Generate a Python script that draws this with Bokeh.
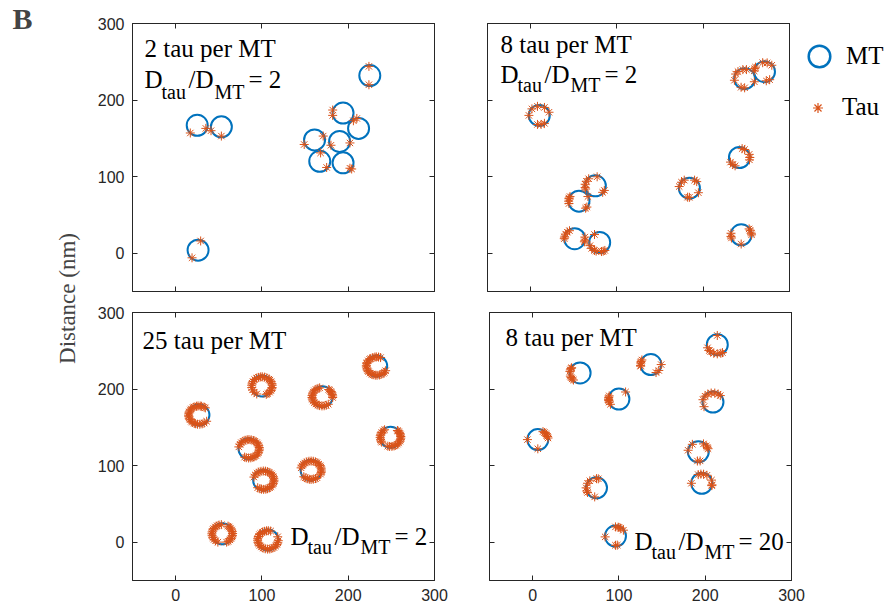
import math
from bokeh.plotting import figure
from bokeh.models import (Range1d, LinearAxis, FixedTicker, Label, Legend, LegendItem,
                          CustomJSTickFormatter)
from bokeh.layouts import row, column
from bokeh.embed import file_html
from bokeh.resources import INLINE

# ---------------- data ----------------
X_TICKS = [0, 100, 200, 300]
Y_TICKS = [0, 100, 200, 300]
AX_MIN, AX_MAX = -50, 300
TAU_R = 12  # distance of tau from MT centre (nm)

# Panel A: 2 tau per MT, Dtau/DMT = 2
mt1_x = [25, 53, 26, 225, 194, 212, 161, 190, 167, 194]
mt1_y = [167, 165, 4, 232, 183, 163, 148, 146, 120, 118]
tau1_x = [17, 35, 41, 53, 29, 19, 224, 224, 182, 182, 206, 210, 149, 171, 180, 202, 168, 175, 202, 204]
tau1_y = [157, 163, 160, 153, 16, -6, 244, 220, 187, 180, 173, 176, 142, 153, 141, 144, 131, 112, 111, 110]

# Panel B: 8 tau per MT, Dtau/DMT = 2
mt2_x = [10, 248, 271, 242, 75, 56, 184, 51, 80, 244]
mt2_y = [180, 228, 237, 125, 88, 68, 85, 19, 14, 24]
tau2_ang = [
    [180, 135, 100, 60, 20, -60, -80, -100],
    [190, 130, 100, 80, -20, -90, -110, 150],
    [175, 100, 75, 45, -60, -80, 150, 160],
    [210, 230, 245, 60, 75, 0, -15, 20],
    [170, 200, 130, 80, -30, -45, 150, 190],
    [165, 180, 195, 150, -40, -50, 30, 160],
    [140, 120, 60, 45, -100, -90, -30, 170],
    [170, 180, 135, 120, 10, -10, -20, 150],
    [220, 240, -80, -60, -70, 120, 200, 250],
    [170, 190, 200, -90, 40, 10, 0, 30],
]

# Panel C: 25 tau per MT, Dtau/DMT = 2
mt3_x = [27, 100, 233, 170, 249, 85, 102, 157, 54, 107]
mt3_y = [166, 204, 230, 190, 137, 122, 81, 94, 11, 3]
tau3_ang = [
    [52, 60, 75, 83, 95, 104, 118, 125, 138, 146, 160, 168, 180, 187, 199, 210, 222, 230, 243, 250, 262, 275, 288, 300, 318],
    [295, 305, 318, 330, 342, 350, 5, 15, 28, 40, 48, 62, 75, 88, 97, 110, 122, 135, 150, 162, 175, 190, 205, 222, 240],
    [68, 80, 92, 100, 112, 125, 133, 145, 158, 165, 178, 186, 198, 210, 218, 230, 242, 250, 262, 272, 285, 295, 308, 318, 330],
    [105, 115, 128, 140, 150, 162, 173, 185, 195, 208, 220, 232, 245, 255, 268, 280, 292, 305, 355, 5, 15, 25, 35, 45, 52],
    [125, 135, 148, 160, 170, 182, 195, 205, 212, 255, 265, 278, 290, 300, 312, 322, 335, 345, 355, 5, 15, 25, 33, 42, 48],
    [245, 255, 268, 280, 292, 300, 312, 325, 335, 348, 358, 8, 20, 32, 42, 55, 65, 78, 90, 100, 112, 125, 138, 150, 168],
    [235, 248, 258, 270, 282, 292, 305, 315, 328, 338, 350, 0, 12, 22, 35, 45, 58, 68, 80, 92, 105, 118, 130, 145, 160],
    [225, 235, 248, 260, 270, 282, 295, 305, 335, 345, 355, 8, 20, 30, 42, 55, 65, 78, 90, 102, 115, 128, 140, 152, 165],
    [95, 108, 120, 132, 145, 155, 168, 180, 192, 205, 218, 230, 245, 295, 305, 318, 328, 340, 350, 2, 15, 25, 38, 48, 56],
    [75, 88, 98, 110, 122, 135, 145, 158, 170, 182, 195, 205, 218, 230, 242, 255, 268, 280, 292, 305, 318, 330, 342, 355, 20],
]

# Panel D: 8 tau per MT, Dtau/DMT = 20
mt4_x = [214, 137, 55, 100, 209, 6, 192, 196, 74, 96]
mt4_y = [258, 232, 221, 187, 183, 134, 118, 77, 71, 8]
tau4_ang = [
    [90, 200, 220, 250, 270, 290, 300, 230],
    [170, 150, 185, 190, -40, -60, 0, 160],
    [160, 150, 210, 220, 200, 145, 170, 230],
    [180, 185, 170, 200, 160, 190, 215, 50],
    [100, 165, 210, 60, 45, 80, 120, 140],
    [50, 60, 10, 20, -90, 180, 30, 40],
    [170, 125, 40, 30, -80, 60, 20, -95],
    [95, 80, 180, 20, -15, -10, 110, 60],
    [130, 90, 210, 260, 180, 150, 200, 80],
    [185, 90, 70, -90, 40, 60, -80, 75],
]

# ---------------- styles ----------------
MT_COLOR = "#0072BD"
TAU_COLOR = "#D95319"
AX_COLOR = "#262626"
SERIF = "Liberation Serif"
SANS = "Liberation Sans"
FRAME_W, FRAME_H = 302, 268
MAIN_FS = "25px"
SUB_FS = "20px"


def around(cx_list, cy_list, ang_lists):
    xs, ys = [], []
    for cx, cy, angs in zip(cx_list, cy_list, ang_lists):
        for a in angs:
            xs.append(cx + TAU_R * math.cos(math.radians(a)))
            ys.append(cy + TAU_R * math.sin(math.radians(a)))
    return xs, ys


def make_axis(show_labels):
    ax = LinearAxis(ticker=FixedTicker(ticks=X_TICKS))
    ax.axis_line_color = AX_COLOR
    ax.major_tick_line_color = AX_COLOR
    ax.major_tick_in = 5
    ax.major_tick_out = 0
    ax.minor_tick_line_color = None
    if show_labels:
        ax.major_label_text_font = SANS
        ax.major_label_text_font_size = "16px"
        ax.major_label_text_color = AX_COLOR
        ax.major_label_standoff = 8
    else:
        ax.formatter = CustomJSTickFormatter(code="return ''")
        ax.major_label_text_font_size = "0px"
        ax.major_label_standoff = 0
    return ax


def make_panel(mx, my, tx, ty, show_x, show_y, bl, br, bt, bb):
    p = figure(frame_width=FRAME_W, frame_height=FRAME_H,
               x_range=Range1d(AX_MIN, AX_MAX), y_range=Range1d(AX_MIN, AX_MAX),
               x_axis_location=None, y_axis_location=None,
               min_border_left=bl, min_border_right=br, min_border_top=bt, min_border_bottom=bb,
               output_backend="svg", toolbar_location=None)
    p.grid.visible = False
    p.outline_line_color = AX_COLOR
    p.outline_line_width = 1
    p.background_fill_color = "white"
    p.add_layout(make_axis(show_x), "below")
    p.add_layout(make_axis(show_y), "left")
    p.add_layout(make_axis(False), "above")
    p.add_layout(make_axis(False), "right")
    mt = p.scatter(mx, my, marker="circle", size=21, fill_color=None,
                   line_color=MT_COLOR, line_width=2)
    tau = p.scatter(tx, ty, marker="asterisk", size=9, line_color=TAU_COLOR, line_width=1)
    return p, mt, tau


def txt(p, x, y, s, size, bold=False):
    p.add_layout(Label(x=x, y=y, x_units="screen", y_units="screen", text=s,
                       text_font=SERIF, text_font_size=size, text_color="black",
                       text_font_style="bold" if bold else "normal",
                       text_baseline="alphabetic", text_align="left"))


def ratio_text(p, x0, yb, ysub, rhs):
    txt(p, x0, yb, "D", MAIN_FS)
    txt(p, x0 + 17, ysub, "tau", SUB_FS)
    txt(p, x0 + 44, yb, "/D", MAIN_FS)
    txt(p, x0 + 70, ysub, "MT", SUB_FS)
    txt(p, x0 + 104, yb, rhs, MAIN_FS)


tau2_x, tau2_y = around(mt2_x, mt2_y, tau2_ang)
tau3_x, tau3_y = around(mt3_x, mt3_y, tau3_ang)
tau4_x, tau4_y = around(mt4_x, mt4_y, tau4_ang)

TOP_H = 23 + FRAME_H + 10

p1, _, _ = make_panel(mt1_x, mt1_y, tau1_x, tau1_y, False, True, 44, 26, 23, 10)
p2, _, _ = make_panel(mt2_x, mt2_y, tau2_x, tau2_y, False, False, 27, 3, 23, 10)
p3, _, _ = make_panel(mt3_x, mt3_y, tau3_x, tau3_y, True, True, 44, 26, 11, 30)
p4, _, _ = make_panel(mt4_x, mt4_y, tau4_x, tau4_y, True, False, 29, 60, 11, 30)

# panel annotations
txt(p1, 12, 243, "2 tau per MT", MAIN_FS)
ratio_text(p1, 12, 212, 200, "= 2")
txt(p2, 13, 247, "8 tau per MT", MAIN_FS)
ratio_text(p2, 13, 217, 207, "= 2")
txt(p3, 10, 240, "25 tau per MT", MAIN_FS)
ratio_text(p3, 158, 44, 34, "= 2")
txt(p4, 16, 243, "8 tau per MT", MAIN_FS)
ratio_text(p4, 145, 39, 29, "= 20")

# legend strip to the right of the top-right panel
leg = figure(width=97, height=TOP_H, x_axis_location=None, y_axis_location=None,
             min_border=0, output_backend="svg", toolbar_location=None,
             x_range=Range1d(0, 1), y_range=Range1d(0, 1))
leg.grid.visible = False
leg.outline_line_color = None
mt_key = leg.scatter(x=[math.nan], y=[math.nan], marker="circle", size=21, fill_color=None,
                     line_color=MT_COLOR, line_width=2.5)
tau_key = leg.scatter(x=[math.nan], y=[math.nan], marker="asterisk", size=9,
                      line_color=TAU_COLOR, line_width=1.2)
leg_mt = Legend(items=[LegendItem(label="MT", renderers=[mt_key])], location=(0, 208),
                glyph_width=54, glyph_height=54, label_standoff=0, padding=0, margin=0,
                border_line_color=None, background_fill_alpha=0,
                label_text_font=SERIF, label_text_font_size=MAIN_FS, label_text_color="black")
leg_tau = Legend(items=[LegendItem(label="Tau", renderers=[tau_key])], location=(13, 170),
                 glyph_width=25, glyph_height=25, label_standoff=12, padding=0, margin=0,
                 border_line_color=None, background_fill_alpha=0,
                 label_text_font=SERIF, label_text_font_size=MAIN_FS, label_text_color="black")
leg.add_layout(leg_mt, "center")
leg.add_layout(leg_tau, "center")

# left strip with panel letter and shared y label
lab = figure(width=88, height=610, x_axis_location=None, y_axis_location=None,
             min_border=0, output_backend="svg", toolbar_location=None,
             x_range=Range1d(0, 1), y_range=Range1d(0, 1))
lab.grid.visible = False
lab.outline_line_color = None
lab.add_layout(Label(x=12, y=592, x_units="screen", y_units="screen", text="B",
                     text_font=SERIF, text_font_size="30px", text_font_style="bold",
                     text_baseline="alphabetic"))
lab.add_layout(Label(x=67, y=312, x_units="screen", y_units="screen", text="Distance (nm)",
                     text_font=SERIF, text_font_size="23px", angle=math.pi / 2,
                     text_align="center", text_baseline="middle"))

layout = row(lab, column(row(p1, p2, leg), row(p3, p4)))
open("out.html", "w").write(file_html(layout, INLINE))
